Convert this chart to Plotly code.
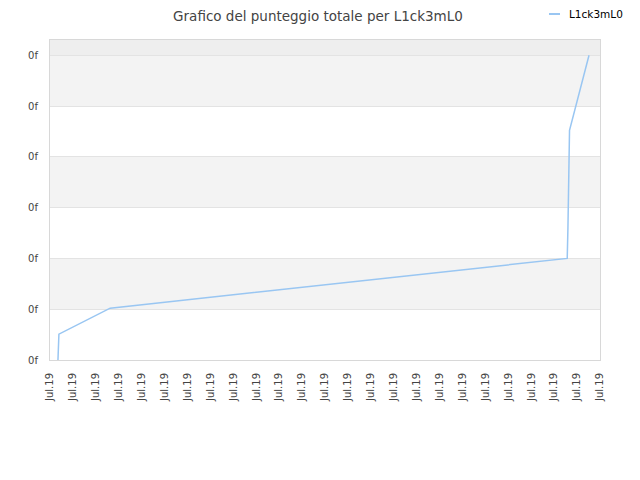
import plotly.graph_objects as go

# Data
times = [
    "2019-07-01 08:20",
    "2019-07-01 08:30",
    "2019-07-01 09:20",
    "2019-07-03 15:00",
    "2019-07-23 13:40",
    "2019-07-23 14:25",
    "2019-07-23 15:10",
    "2019-07-23 16:05",
    "2019-07-24 12:30",
]
scores = [0.0, 0.25, 0.51, 1.02, 2.0, 2.6, 3.88, 4.52, 6.0]

y_ticks = [0, 1, 2, 3, 4, 5, 6]
y_tick_text = ["0f"] * len(y_ticks)

x_start = "2019-07-01"
x_end = "2019-07-25"

series_name = "L1ck3mL0"
LINE_COLOR = "#99c6f2"
GRID = "#e3e3e3"
BAND = "#f3f3f3"

W, H = 640, 480
# plot area in figure pixels
L, R, T, B = 42, 48, 32, 128
PW, PH = W - L - R, H - T - B


def px_x(x):
    """figure pixel x -> paper x"""
    return (x - L) / PW


def px_y(y):
    """figure pixel y (from top) -> paper y"""
    return (H - B - y) / PH


fig = go.Figure()

fig.add_trace(go.Scatter(
    x=times, y=scores,
    mode="lines",
    line=dict(color=LINE_COLOR, width=1.5),
    name=series_name,
    showlegend=False,
))

# alternating bands
shapes = []
for lo in [1, 3, 5]:
    shapes.append(dict(
        type="rect", xref="paper", yref="y", x0=0, x1=1, y0=lo, y1=lo + 1,
        fillcolor=BAND, line=dict(width=0), layer="below",
    ))
shapes.append(dict(
    type="rect", xref="paper", yref="y", x0=0, x1=1, y0=6, y1=6.3,
    fillcolor="#eeeeee", line=dict(width=0), layer="below",
))

# small legend swatch drawn by hand (short line like the original)
shapes.append(dict(
    type="line", xref="paper", yref="paper",
    x0=px_x(541), x1=px_x(552), y0=px_y(6), y1=px_y(6),
    line=dict(color=LINE_COLOR, width=2),
))

fig.update_layout(
    width=W, height=H,
    font=dict(family="DejaVu Sans", size=10, color="#444"),
    title=dict(
        text="Grafico del punteggio totale per L1ck3mL0",
        x=310 / W, xanchor="center", y=1 - 3.5 / H, yanchor="top",
        font=dict(size=13.5, color="#444"),
    ),
    annotations=[dict(
        text=series_name, xref="paper", yref="paper",
        x=px_x(559), xanchor="left",
        y=px_y(6), yanchor="middle",
        showarrow=False, font=dict(size=10.5, color="black"),
    )],
    paper_bgcolor="white",
    plot_bgcolor="white",
    margin=dict(l=L, r=R, t=T, b=B),
    shapes=shapes,
    showlegend=False,
    xaxis=dict(
        type="date",
        range=[x_start, x_end],
        dtick=86400000,
        tick0=x_start,
        tickformat="%b.%y",
        tickangle=-90,
        showgrid=False,
        showline=True, linecolor="#d8d8d8", mirror=True,
        ticks="", zeroline=False,
        ticklabelstandoff=8,
        tickfont=dict(size=10, color="#444"),
    ),
    yaxis=dict(
        range=[0, 6.3],
        tickvals=y_ticks,
        ticktext=y_tick_text,
        showgrid=True, gridcolor=GRID,
        showline=True, linecolor="#d8d8d8", mirror=True,
        ticks="", zeroline=False,
        ticklabelstandoff=9,
        tickfont=dict(size=10, color="#444"),
    ),
)

fig.write_html("out.html")
